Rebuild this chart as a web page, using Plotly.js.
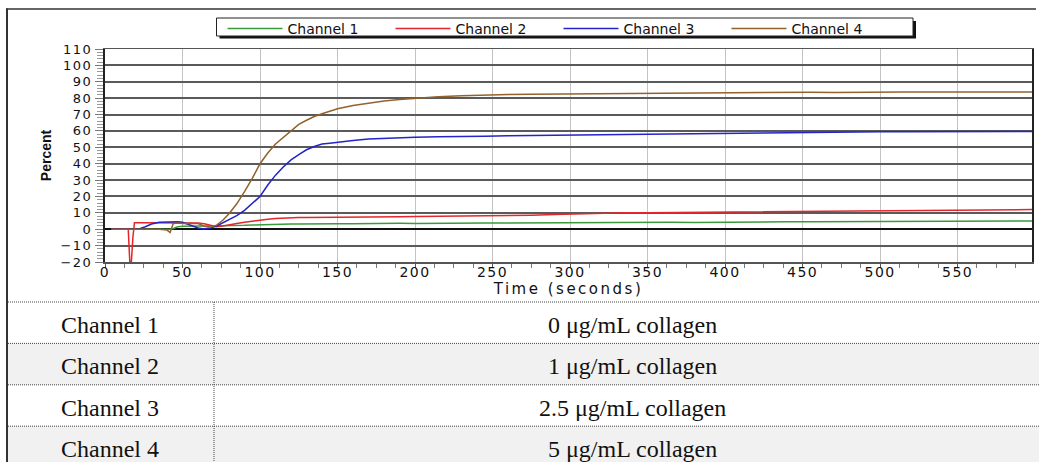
<!DOCTYPE html>
<html><head><meta charset="utf-8">
<script src="https://cdn.plot.ly/plotly-3.0.1.min.js"></script>
<style>
html,body{margin:0;padding:0;background:#fff;}
#chart{width:1039px;height:462px;}
.xtick text{letter-spacing:1.5px;}
.ytick text{letter-spacing:1.5px;}
.g-xtitle text{letter-spacing:2.5px;}
</style></head><body><div id="chart"></div><script>
// ---- data ----
const time = [4,10,14,15,16,17,18,19,22,26,30,35,40,42,44,47,50,55,60,64,68,72,76,80,85,90,95,100,105,110,115,120,125,130,135,140,145,150,160,170,180,190,200,215,230,245,260,275,290,305,320,335,350,365,380,395,410,425,440,455,470,485,500,515,530,545,560,575,590,598];
const channel1 = [0,0,0,0,0,0,0,0, 0,0,0,0,0,0,0.5,1.5,1.8, 2,2,2,2,2,2,2.2,2.2,2.4,2.6, 2.8,3,3,3.1,3.2,3.2,3.3,3.2,3.3,3.3,3.4, 3.3,3.5,3.4,3.6,3.5, 3.7,3.6,3.8,3.8,3.9,3.9,4,4,4.1,4, 4.2,4.1,4.3,4.3,4.4,4.5,4.5,4.6,4.6,4.7, 4.8,4.8,4.9,4.9,5,5,5];
const channel2 = [0,0,0,0,-20,-20,-5,4, 4,4,4,4,4,4,4,4,4, 4,3.8,3.4,2.5,1.5,2,2.8,3.5,4.3,5, 5.6,6.1,6.5,6.8,7,7.1,7.2,7.2,7.3,7.3,7.4, 7.4,7.5,7.6,7.6,7.7, 7.8,7.9,8.1,8.3,8.6,9,9.4,9.8,10,10.1, 10.2,10.4,10.5,10.6,10.7,10.8,10.9,11,11.1,11.2, 11.3,11.5,11.6,11.7,11.8,12,12];
const channel3 = [0,0,0,0,0,0,0,0, 0.2,1.5,3.2,4.2,4.4,4.5,4.5,4.5,4.3, 2.5,0.8,0.2,0.8,2,4,5.8,8.3,11.5,15.5, 20,27,33,38,42.3,45.5,48.5,50.5,52,52.5,53.2, 54.2,55,55.5,55.8,56.2, 56.5,56.5,56.8,57,57,57.3,57.5,57.6,58,58, 58.2,58.3,58.5,58.6,58.8,59,59.2,59.3,59.4,59.5, 59.5,59.6,59.6,59.7,59.7,59.7,59.7];
const channel4 = [0,0,0,0,0,0,0,0, 0,0,0,0,-0.5,-2,3.5,3.8,3.5, 3.6,3.5,1.8,1.2,2.5,5.5,9.5,15.5,23,31, 40,46.5,52,56,60,64,66.5,68.8,70.5,72,73.5, 75.5,77,78.3,79.2,80, 80.8,81.5,82,82.2,82.4,82.5,82.7,83,83,83.2, 83.2,83.3,83.4,83.5,83.4,83.5,83.6,83.5,83.7,83.7, 83.8,83.7,83.8,83.8,83.9,83.7,83.8];
const seriesNames = ['Channel 1','Channel 2','Channel 3','Channel 4'];
const seriesColors = ['#3a9a3a','#e3262b','#2424c8','#93612c'];
const tableChannels = ['Channel 1','Channel 2','Channel 3','Channel 4'];
const tableConditions = ['0 μg/mL collagen','1 μg/mL collagen','2.5 μg/mL collagen','5 μg/mL collagen'];

// ---- layout helpers (pixel -> paper) ----
const L=105, R=1032, T=49, B=262;
const fx = X => (X-L)/(R-L);
const fy = Y => (B-Y)/(B-T);

const series = [channel1, channel2, channel3, channel4];
const traces = series.map((v,i)=>({
  type:'scatter', mode:'lines', x:time, y:v, name:seriesNames[i],
  line:{color:seriesColors[i], width:1.5}
}));

const shapes = [];
const annotations = [];
// outer frame
shapes.push({type:'line', xref:'paper', yref:'paper', x0:fx(7), x1:fx(7), y0:fy(8.5), y1:fy(470), line:{color:'#333', width:2}});
shapes.push({type:'line', xref:'paper', yref:'paper', x0:fx(6), x1:fx(1036), y0:fy(9), y1:fy(9), line:{color:'#333', width:1.5}});
// legend box with shadow
shapes.push({type:'rect', xref:'paper', yref:'paper', x0:fx(219.5), x1:fx(916), y0:fy(21), y1:fy(38.5), fillcolor:'#111', line:{width:0}});
shapes.push({type:'rect', xref:'paper', yref:'paper', x0:fx(216.5), x1:fx(913), y0:fy(18), y1:fy(36), fillcolor:'#fff', line:{color:'#222', width:1}});
// table
const tableTop = 302, rowH = 41.4;
tableChannels.forEach((c,i)=>{
  const y0 = tableTop + i*rowH;
  if(i%2===1){
    shapes.push({type:'rect', xref:'paper', yref:'paper', layer:'below', x0:fx(8), x1:fx(1040), y0:fy(y0), y1:fy(y0+rowH), fillcolor:'#f1f1f1', line:{width:0}});
  }
  shapes.push({type:'line', xref:'paper', yref:'paper', x0:fx(8), x1:fx(1040), y0:fy(y0), y1:fy(y0), line:{color:'#444', width:1, dash:'1px,1px'}});
  annotations.push({xref:'paper', yref:'paper', x:fx(110), y:fy(y0+rowH/2+2), text:c, showarrow:false, xanchor:'center', yanchor:'middle', font:{family:'Liberation Serif', size:24, color:'#111'}});
  annotations.push({xref:'paper', yref:'paper', x:fx(632), y:fy(y0+rowH/2+2), text:tableConditions[i], showarrow:false, xanchor:'center', yanchor:'middle', font:{family:'Liberation Serif', size:24, color:'#111'}});
});
shapes.push({type:'line', xref:'paper', yref:'paper', x0:fx(214), x1:fx(214), y0:fy(tableTop), y1:fy(470), line:{color:'#444', width:1, dash:'1px,1px'}});

const layout = {
  width:1039, height:462,
  margin:{l:L, r:1039-R, t:T, b:462-B, pad:0},
  paper_bgcolor:'#fff', plot_bgcolor:'#fff',
  showlegend:true,
  legend:{orientation:'h', x:fx(222.5), y:fy(13), xanchor:'left', yanchor:'top',
    bgcolor:'rgba(0,0,0,0)', borderwidth:0, itemwidth:55, entrywidth:98,
    font:{family:'DejaVu Sans', size:14, color:'#111'}},
  xaxis:{range:[0,598], tick0:0, dtick:50, showgrid:true, gridcolor:'#c4c4c4', gridwidth:1,
    zeroline:false, showline:true, linecolor:'#555', linewidth:1.5, mirror:true,
    ticks:'outside', ticklen:4, tickcolor:'#555', tickwidth:1, ticklabelstandoff:-7,
    minor:{dtick:12.5, ticks:'outside', ticklen:4, tickcolor:'#777', showgrid:false},
    tickfont:{family:'DejaVu Sans', size:14, color:'#111'},
    title:{text:'Time (seconds)', font:{family:'DejaVu Sans', size:15, color:'#111'}, standoff:0},
    fixedrange:true},
  yaxis:{range:[-20,110], tick0:0, dtick:10, showgrid:true, gridcolor:'#5a5a5a', gridwidth:2,
    zeroline:true, zerolinecolor:'#111', zerolinewidth:2,
    showline:true, linecolor:'#222', linewidth:2, mirror:true,
    ticks:'outside', ticklen:8, tickcolor:'#777', tickwidth:1,
    minor:{dtick:2, ticks:'outside', ticklen:6, tickcolor:'#999', showgrid:false},
    tickfont:{family:'DejaVu Sans', size:13, color:'#111'},
    title:{text:'Percent', font:{family:'Liberation Sans', size:14, color:'#111', weight:'bold'}, standoff:6},
    fixedrange:true},
  shapes:shapes,
  annotations:annotations
};
Plotly.newPlot('chart', traces, layout, {displayModeBar:false, staticPlot:true});
</script></body></html>
